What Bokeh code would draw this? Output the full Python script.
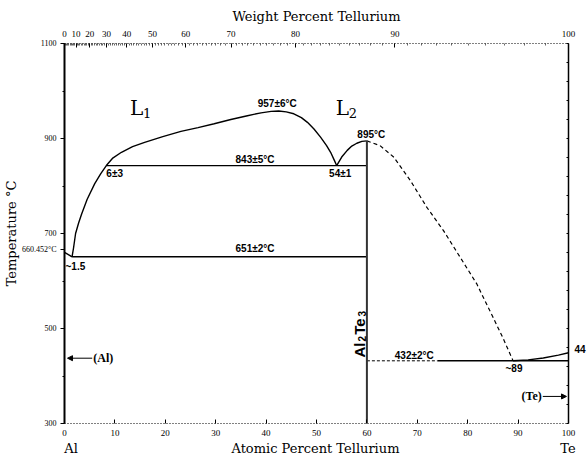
import math
from bokeh.plotting import figure
from bokeh.models import LinearAxis, FixedTicker, Label, Arrow, NormalHead, Range1d
from bokeh.embed import file_html
from bokeh.resources import INLINE

# ---------------- data (at.% Te, temperature degC) ----------------
al_x = [0.0, 1.5]
al_t = [660.452, 651.0]

l1_x = [1.5, 1.8, 2.2, 2.8, 3.4, 4.5, 6.0, 7.2, 8.3, 9.5, 11.3, 13.5, 15.9, 19.5, 23.1,
        26.5, 29.7, 33.0, 36.3, 39.0, 41.0, 42.5, 44.0, 45.5, 47.0, 48.2, 49.5, 50.8,
        52.0, 52.8, 53.5, 54.0]
l1_t = [651, 670, 700, 722, 741, 772, 805, 826, 843, 858, 871, 883, 892, 904, 915,
        923, 931, 940, 948, 954, 957, 958, 956, 952, 944, 934, 920, 903,
        885, 871, 855, 843]

l2_x = [54.0, 55.0, 56.1, 57.0, 58.0, 59.0, 60.0]
l2_t = [843, 861, 875, 884, 890, 894, 895]

dash_x = [60.0, 62.6, 65.3, 68.6, 71.9, 75.2, 78.5, 81.8, 85.0, 87.0, 89.0]
dash_t = [895, 885, 861, 812, 755, 706, 650, 594, 524, 480, 432]

te_x = [89.0, 92.0, 95.0, 98.0, 100.0]
te_t = [432, 434, 438, 444, 449]

inv_t = [843, 651, 432]
inv_x0 = [8.3, 1.5, 74.0]
inv_x1 = [60.0, 60.0, 100.0]
inv432_dashed_x = [60.0, 74.0]

comp_x = [60.0, 60.0]
comp_t = [300, 895]

at_ticks = list(range(0, 101, 10))
wt_ticks = [0, 10, 20, 30, 40, 50, 60, 70, 80, 90, 100]
wt_minor = list(range(0, 101, 1))
t_ticks = [300, 500, 700, 900, 1100]
t_minor = [400, 600, 800, 1000]
al_melt_label = "660.452°C"
te_melt_label = "44"

M_AL, M_TE = 26.9815, 127.60


def wt_to_at(w):
    if w <= 0:
        return 0.0
    if w >= 100:
        return 100.0
    a = w / M_TE
    b = (100.0 - w) / M_AL
    return 100.0 * a / (a + b)


# ---------------- figure ----------------
p = figure(width=588, height=460, x_range=Range1d(0, 100), y_range=Range1d(300, 1100),
           output_backend="svg", toolbar_location=None,
           min_border_left=63, min_border_right=19, min_border_top=43, min_border_bottom=37,
           x_axis_location=None, y_axis_location=None)
p.grid.visible = False
p.outline_line_color = None
p.background_fill_color = "white"
p.border_fill_color = "white"

TICK_FONT = "Liberation Serif"
TITLE_FONT = "DejaVu Serif"
BLACK = "black"


def style_axis(ax):
    ax.axis_line_color = BLACK
    ax.major_tick_line_color = BLACK
    ax.minor_tick_line_color = BLACK
    ax.major_label_text_color = BLACK
    ax.axis_label_text_color = BLACK
    ax.major_label_text_font = TICK_FONT
    ax.axis_label_text_font = TITLE_FONT
    ax.axis_label_text_font_style = "normal"
    ax.axis_label_text_font_size = "13px"


# bottom axis (atomic percent)
xb = LinearAxis(ticker=FixedTicker(ticks=at_ticks, minor_ticks=[]))
style_axis(xb)
xb.axis_line_dash = "1 2"
xb.axis_line_width = 1
xb.major_tick_in = 4
xb.major_tick_out = 0
xb.major_label_standoff = 6
xb.major_label_text_font_size = "9px"
p.add_layout(xb, "below")

# second bottom row: element names and the axis title
name_pos = [1.3, 49.8, 99.9]
name_txt = ["Al", "Atomic Percent Tellurium", "Te"]
xn = LinearAxis(ticker=FixedTicker(ticks=name_pos, minor_ticks=[]))
xn.major_label_overrides = {pos: t for pos, t in zip(name_pos, name_txt)}
style_axis(xn)
xn.axis_line_color = None
xn.major_tick_line_color = None
xn.major_tick_in = 0
xn.major_tick_out = 0
xn.major_label_standoff = 2
xn.major_label_text_font = TITLE_FONT
xn.major_label_text_font_size = "13px"
p.add_layout(xn, "below")

# top axis (weight percent)
wt_pos = [wt_to_at(w) for w in wt_ticks]
xt = LinearAxis(ticker=FixedTicker(ticks=wt_pos, minor_ticks=[wt_to_at(w) for w in wt_minor]),
                axis_label="Weight Percent Tellurium")
xt.major_label_overrides = {pos: str(w) for pos, w in zip(wt_pos, wt_ticks)}
style_axis(xt)
xt.axis_line_dash = "1 2"
xt.axis_line_width = 1
xt.major_tick_in = 4
xt.major_tick_out = 0
xt.minor_tick_in = 2
xt.minor_tick_out = 0
xt.minor_tick_line_width = 0.6
xt.major_label_standoff = 7
xt.major_label_text_font_size = "9px"
xt.axis_label_standoff = 4
p.add_layout(xt, "above")

# left axis (temperature)
left_ticks = t_ticks + [666]
yl = LinearAxis(ticker=FixedTicker(ticks=left_ticks, minor_ticks=t_minor),
                axis_label="Temperature °C")
yl.major_label_overrides = {666: al_melt_label}
style_axis(yl)
yl.axis_line_width = 2
yl.major_tick_in = 0
yl.major_tick_out = 4
yl.minor_tick_in = 0
yl.minor_tick_out = 2
yl.major_label_standoff = 4
yl.major_label_text_font_size = "8px"
yl.axis_label_standoff = 0
p.add_layout(yl, "left")

# right axis (pure Te line)
yr = LinearAxis(ticker=FixedTicker(ticks=[456], minor_ticks=list(range(300, 1101, 40))))
yr.major_label_overrides = {456: te_melt_label}
style_axis(yr)
yr.axis_line_width = 1.5
yr.major_tick_in = 0
yr.major_tick_out = 0
yr.minor_tick_in = 2
yr.minor_tick_out = 0
yr.major_label_standoff = 6
yr.major_label_text_font = "Liberation Sans"
yr.major_label_text_font_style = "bold"
yr.major_label_text_font_size = "10px"
p.add_layout(yr, "right")

# ---------------- curves ----------------
LW = 1.4
p.line(al_x, al_t, line_color=BLACK, line_width=LW)
p.line(l1_x, l1_t, line_color=BLACK, line_width=LW)
p.line(l2_x, l2_t, line_color=BLACK, line_width=LW)
p.line(dash_x, dash_t, line_color=BLACK, line_width=1.2, line_dash="4 3")
p.line(te_x, te_t, line_color=BLACK, line_width=LW)
p.segment(x0=inv_x0, y0=inv_t, x1=inv_x1, y1=inv_t, line_color=BLACK, line_width=LW)
p.line(inv432_dashed_x, [inv_t[2], inv_t[2]], line_color=BLACK, line_width=1.0, line_dash="3 2")
p.line(comp_x, comp_t, line_color="#333333", line_width=2)

# ---------------- annotations ----------------
ANN = "Liberation Sans"


def lab(x, y, text, size="10px", font=ANN, style="bold", align="center",
        baseline="middle", angle=0.0):
    p.add_layout(Label(x=x, y=y, text=text, text_font_size=size, text_font=font,
                       text_font_style=style, text_align=align, text_baseline=baseline,
                       angle=angle, text_color=BLACK))


lab(42.2, 974, "957±6°C")
lab(37.8, 856, "843±5°C")
lab(37.8, 668, "651±2°C")
lab(69.4, 443, "432±2°C")
lab(8.3, 827, "6±3", align="left")
lab(52.5, 827, "54±1", align="left")
lab(58.1, 908, "895°C", align="left")
lab(0.2, 631, "~1.5", align="left")
lab(87.5, 415, "~89", align="left")

# liquid labels
lab(13.0, 965, "L", size="20px", font=TITLE_FONT, style="normal", align="left")
lab(15.6, 954, "1", size="13px", font=TITLE_FONT, style="normal", align="left")
lab(53.8, 965, "L", size="20px", font=TITLE_FONT, style="normal", align="left")
lab(56.4, 954, "2", size="13px", font=TITLE_FONT, style="normal", align="left")

# compound label (vertical, reading upward)
ang = math.pi / 2
lab(58.6, 439.0, "Al", size="15px", align="left", angle=ang)
lab(59.1, 472.7, "2", size="10px", align="left", angle=ang)
lab(58.6, 486.6, "Te", size="15px", align="left", angle=ang)
lab(59.1, 525.5, "3", size="10px", align="left", angle=ang)

# terminal phases
lab(5.7, 437.5, "(Al)", size="12px", font="Liberation Serif", align="left")
lab(94.7, 357, "(Te)", size="12px", font="Liberation Serif", align="right")
p.add_layout(Arrow(x_start=5.5, y_start=437.5, x_end=0.6, y_end=437.5, line_width=1,
                   end=NormalHead(size=5, fill_color=BLACK, line_color=BLACK)))
p.add_layout(Arrow(x_start=94.9, y_start=357, x_end=99.6, y_end=357, line_width=1,
                   end=NormalHead(size=5, fill_color=BLACK, line_color=BLACK)))

open("out.html", "w").write(file_html(p, INLINE))
